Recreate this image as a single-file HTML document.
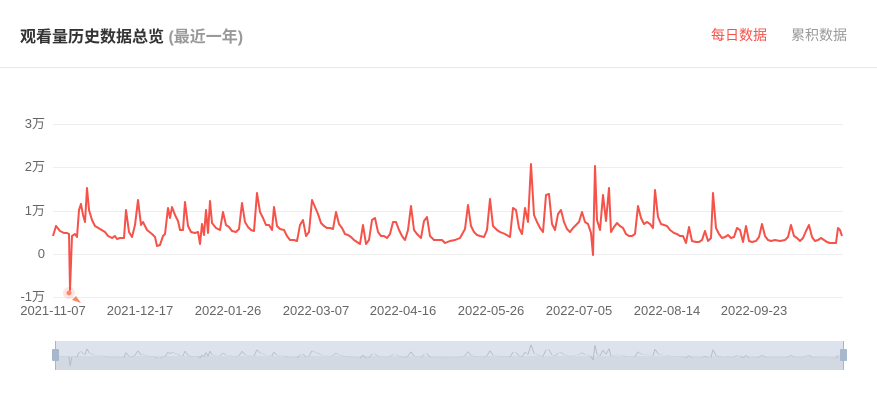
<!DOCTYPE html>
<html><head><meta charset="utf-8"><style>
html,body{margin:0;padding:0;background:#fff;width:877px;height:405px;overflow:hidden;font-family:"Liberation Sans","Noto Sans CJK SC",sans-serif}
.t{position:absolute;left:20px;top:23px;font-size:16px;font-weight:bold;color:#333}
.t span{color:#999}
.tab{position:absolute;top:25px;font-size:14px}
.line{position:absolute;left:0;top:67px;width:877px;height:1px;background:#e8e8e8}
</style></head><body>
<div class="t">观看量历史数据总览 <span>(最近一年)</span></div>
<div class="tab" style="left:711px;color:#f5524a">每日数据</div>
<div class="tab" style="left:791px;color:#999">累积数据</div>
<div class="line"></div>
<svg width="877" height="405" style="position:absolute;left:0;top:0" font-family="Liberation Sans, Noto Sans CJK SC, sans-serif">
<g stroke="#eeeeee" stroke-width="1">
<line x1="53" x2="843" y1="124.5" y2="124.5"/><line x1="53" x2="843" y1="167.5" y2="167.5"/><line x1="53" x2="843" y1="211.5" y2="211.5"/><line x1="53" x2="843" y1="254.5" y2="254.5"/><line x1="53" x2="843" y1="297.5" y2="297.5"/>
</g>
<g font-size="13" fill="#666" text-anchor="end">
<text x="45" y="128">3万</text><text x="45" y="171">2万</text><text x="45" y="215">1万</text><text x="45" y="258">0</text><text x="45" y="301">-1万</text>
</g>
<g font-size="13" fill="#666" text-anchor="middle">
<text x="53" y="315">2021-11-07</text><text x="140" y="315">2021-12-17</text><text x="228" y="315">2022-01-26</text><text x="316" y="315">2022-03-07</text><text x="403" y="315">2022-04-16</text><text x="491" y="315">2022-05-26</text><text x="579" y="315">2022-07-05</text><text x="667" y="315">2022-08-14</text><text x="754" y="315">2022-09-23</text>
</g>
<defs><path id="d" d="M53,236 L56,226 60,231 64,233 67,233 69,234 70,290 72,236 75,234 77,237 79,210 81,204 83,215 85,222 87,188 89,210 92,220 95,226 100,229 105,232 108,236 112,238 115,236 117,239 120,238 124,238 126,210 129,232 132,237 135,225 138,200 141,225 143,222 147,230 152,234 155,237 157,246 160,245 163,236 165,234 168,208 170,218 172,207 175,215 178,221 180,230 183,230 185,202 188,226 191,232 195,233 198,232 200,244 202,224 204,235 206,210 208,233 210,201 212,223 216,228 220,230 223,212 226,225 229,227 232,231 236,232 239,229 242,203 245,222 248,227 251,230 254,231 257,193 260,212 263,218 266,225 269,225 272,230 274,207 277,226 280,229 284,230 287,236 290,240 294,240 297,241 300,225 303,220 306,236 309,232 312,200 315,207 318,214 321,223 324,226 327,228 330,228 333,229 336,212 339,224 342,228 345,234 348,235 351,237 354,240 357,242 360,244 363,225 366,244 369,240 372,220 375,218 378,232 381,236 384,236 387,238 390,234 393,222 396,222 399,230 402,236 405,240 408,230 411,206 414,230 417,234 421,238 424,221 427,217 430,236 434,240 438,240 442,240 445,243 450,241 455,240 460,238 465,229 468,205 471,226 474,232 477,235 480,236 484,237 487,230 490,199 493,226 497,230 500,232 505,234 510,237 513,208 516,210 519,228 522,234 525,208 528,222 531,164 534,215 537,222 540,228 543,232 546,195 549,194 552,224 555,230 558,214 561,210 564,222 567,229 570,232 573,228 576,225 579,222 582,212 585,222 588,224 591,233 593,255 595,166 597,220 600,230 603,195 606,221 609,188 611,232 614,227 617,223 620,226 623,228 626,234 629,236 632,236 635,234 638,206 641,218 644,224 647,222 650,224 653,228 655,190 658,217 661,224 664,225 667,226 670,230 674,233 677,234 680,236 683,236 686,243 689,227 692,241 696,242 699,242 702,240 705,231 708,241 711,238 713,193 716,228 719,234 722,238 725,237 728,235 731,238 734,237 737,228 740,230 743,242 746,226 749,241 752,242 756,241 759,237 762,224 765,236 768,240 771,241 775,240 780,241 785,240 788,237 791,225 794,236 797,238 800,241 803,238 806,231 809,225 812,237 815,241 818,240 821,238 824,240 827,242 830,243 833,243 836,243 838,228 840,230 842,236"/></defs>
<use href="#d" fill="none" stroke="#f5524a" stroke-width="2" stroke-linejoin="round"/>
<circle cx="69" cy="293" r="6" fill="#f5524a" opacity="0.15"/>
<circle cx="69" cy="293" r="2.5" fill="#f58a6a"/>
<path d="M72,300 L81,303 76,296 Z" fill="#f58a6a"/>
<rect x="55" y="341" width="788" height="29" fill="#dde3ec"/>
<rect x="55" y="356" width="788" height="14" fill="#d3d9e3"/>
<g transform="translate(0,316.8) scale(1,0.17)"><use href="#d" fill="none" stroke="#b5bcc8" stroke-width="1" vector-effect="non-scaling-stroke"/></g>
<line x1="55.5" y1="341" x2="55.5" y2="370" stroke="#a8b5c8"/>
<line x1="843.5" y1="341" x2="843.5" y2="370" stroke="#a8b5c8"/>
<rect x="52" y="349" width="7" height="12" fill="#a8b8cc" rx="1"/>
<rect x="840" y="349" width="7" height="12" fill="#a8b8cc" rx="1"/>
</svg>
</body></html>
